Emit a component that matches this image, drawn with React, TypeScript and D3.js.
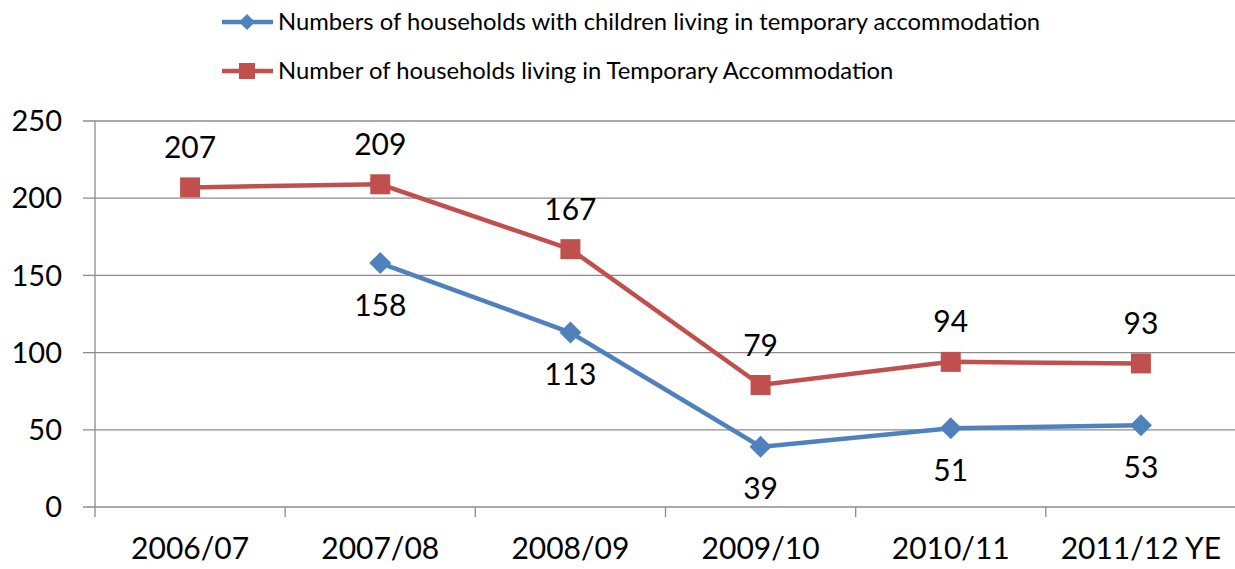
import React, { useRef, useEffect } from 'react';
import * as d3 from 'd3';

const categories = ['2006/07', '2007/08', '2008/09', '2009/10', '2010/11', '2011/12 YE'];
const childrenValues: (number | null)[] = [null, 158, 113, 39, 51, 53];
const totalValues: (number | null)[] = [207, 209, 167, 79, 94, 93];
const yTicks = [0, 50, 100, 150, 200, 250];
const seriesNames = [
    'Numbers of households with children living in temporary accommodation',
    'Number of households living in Temporary Accommodation',
];

const WIDTH = 1235;
const HEIGHT = 569;
const FONT = 'Lato, "Open Sans", sans-serif';

// rotated-square diamond like the spreadsheet marker
const diamond = (r: number) => `M0,${-r}L${r},0L0,${r}L${-r},0Z`;
const square = (r: number) => `M${-r},${-r}H${r}V${r}H${-r}Z`;

const App: React.FC = () => {
    const ref = useRef<SVGSVGElement>(null);

    useEffect(() => {
        if (!ref.current) return;
        const svg = d3.select(ref.current);
        svg.selectAll('*').remove();

        const left = 95, right = 1236, top = 121, bottom = 507;

        const x = d3.scaleBand().domain(categories).range([left, right]);
        const y = d3.scaleLinear().domain([0, 250]).range([bottom, top]);

        // gridlines
        svg.append('g')
            .selectAll('line')
            .data(yTicks)
            .enter()
            .append('line')
            .attr('x1', left - 12)
            .attr('x2', right)
            .attr('y1', d => y(d))
            .attr('y2', d => y(d))
            .attr('stroke', '#8c8c8c')
            .attr('stroke-width', 1.3);

        // y axis line
        svg.append('line')
            .attr('x1', left).attr('x2', left)
            .attr('y1', top).attr('y2', bottom + 10)
            .attr('stroke', '#8c8c8c').attr('stroke-width', 1.3);

        // x category ticks
        svg.append('g')
            .selectAll('line')
            .data(categories.slice(1))
            .enter()
            .append('line')
            .attr('x1', d => x(d)!)
            .attr('x2', d => x(d)!)
            .attr('y1', bottom)
            .attr('y2', bottom + 10)
            .attr('stroke', '#8c8c8c')
            .attr('stroke-width', 1.3);

        svg.append('g')
            .selectAll('text')
            .data(yTicks)
            .enter()
            .append('text')
            .attr('x', left - 33)
            .attr('y', d => y(d))
            .attr('dy', '0.35em')
            .attr('text-anchor', 'end')
            .attr('font-family', FONT)
            .attr('font-size', 29)
            .attr('fill', '#000')
            .text(d => d);

        svg.append('g')
            .selectAll('text')
            .data(categories)
            .enter()
            .append('text')
            .attr('x', d => x(d)! + x.bandwidth() / 2)
            .attr('y', 559)
            .attr('text-anchor', 'middle')
            .attr('font-family', FONT)
            .attr('font-size', 30)
            .attr('fill', '#000')
            .text(d => d);

        const cx = (i: number) => x(categories[i])! + x.bandwidth() / 2;

        const drawSeries = (values: (number | null)[], color: string, marker: (r: number) => string, r: number, above: boolean) => {
            const pts = values.map((v, i) => ({ v, i })).filter(p => p.v !== null) as { v: number; i: number }[];
            const line = d3.line<{ v: number; i: number }>()
                .x(p => cx(p.i))
                .y(p => y(p.v));
            svg.append('path')
                .datum(pts)
                .attr('d', line)
                .attr('fill', 'none')
                .attr('stroke', color)
                .attr('stroke-width', 4.5);

            svg.append('g')
                .selectAll('path')
                .data(pts)
                .enter()
                .append('path')
                .attr('transform', p => `translate(${cx(p.i)},${y(p.v)})`)
                .attr('d', marker(r))
                .attr('fill', color);

            svg.append('g')
                .selectAll('text')
                .data(pts)
                .enter()
                .append('text')
                .attr('x', p => cx(p.i))
                .attr('y', p => y(p.v) + (above ? -40 : 42))
                .attr('dy', '0.35em')
                .attr('text-anchor', 'middle')
                .attr('font-family', FONT)
                .attr('font-size', 30)
                .attr('fill', '#000')
                .text(p => p.v);
        };

        drawSeries(childrenValues, '#4F81BD', diamond, 11, false);
        drawSeries(totalValues, '#C0504D', square, 10, true);

        // legend
        const legend = [
            { name: seriesNames[0], color: '#4F81BD', marker: diamond, r: 8, y: 22 },
            { name: seriesNames[1], color: '#C0504D', marker: square, r: 8, y: 71 },
        ];
        const lg = svg.append('g').selectAll('g').data(legend).enter().append('g');
        lg.append('line')
            .attr('x1', 222).attr('x2', 273)
            .attr('y1', d => d.y).attr('y2', d => d.y)
            .attr('stroke', d => d.color)
            .attr('stroke-width', 4.5);
        lg.append('path')
            .attr('transform', d => `translate(247,${d.y})`)
            .attr('d', d => d.marker(d.r))
            .attr('fill', d => d.color);
        lg.append('text')
            .attr('x', 278)
            .attr('y', d => d.y)
            .attr('dy', '0.35em')
            .attr('font-family', FONT)
            .attr('font-size', 23.8)
            .attr('fill', '#000')
            .text(d => d.name);
    }, []);

    return (
        <svg
            ref={ref}
            width={WIDTH}
            height={HEIGHT}
            style={{ position: 'absolute', left: 0, top: 0, background: '#fff' }}
        />
    );
};

export default App;
